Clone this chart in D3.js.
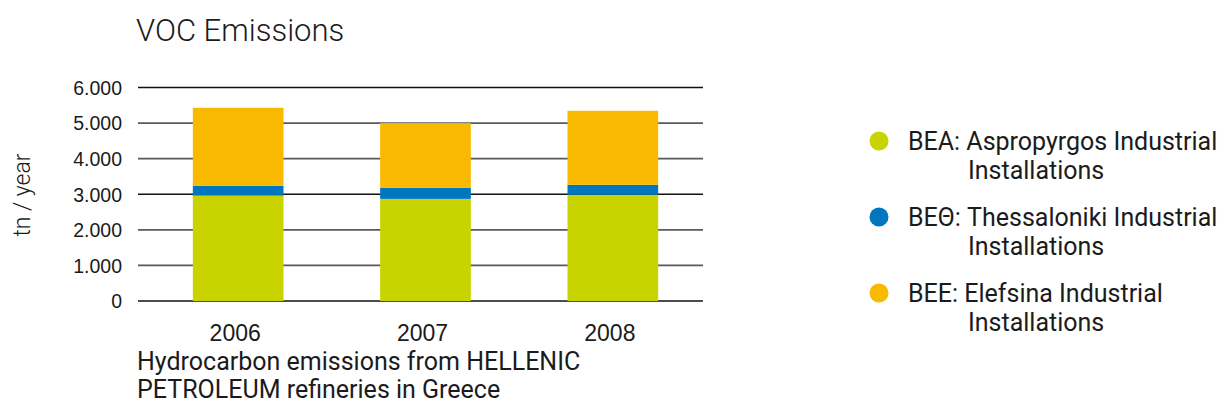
<!DOCTYPE html>
<html>
<head>
<meta charset="utf-8">
<script src="https://cdn.jsdelivr.net/npm/d3@7"></script>
<style>
  html, body { margin: 0; padding: 0; background: #fff; }
  svg { display: block; font-family: Roboto, "DejaVu Sans", sans-serif; }
</style>
</head>
<body>
<svg id="chart" width="1227" height="417"></svg>
<script>
// VOC emissions per refinery, tn / year
const years = ["2006", "2007", "2008"];
const bea = [2960, 2870, 2985];      // Aspropyrgos
const beth = [280, 310, 280];        // Thessaloniki
const bee = [2190, 1820, 2080];      // Elefsina
const yTicks = [0, 1000, 2000, 3000, 4000, 5000, 6000];

const seriesKeys = ["bea", "beth", "bee"];
const seriesColors = ["#C8D300", "#0076BE", "#F9B900"];
const legendLabels = [
  ["BEA: Aspropyrgos Industrial", "Installations"],
  ["BE\u0398: Thessaloniki Industrial", "Installations"],
  ["BEE: Elefsina Industrial", "Installations"]
];

const rows = years.map((y, i) => ({ year: y, bea: bea[i], beth: beth[i], bee: bee[i] }));
const stacked = d3.stack().keys(seriesKeys)(rows);

const svg = d3.select("#chart");
const textColor = "#1b1b1b";

const x = d3.scaleBand().domain(years).range([146, 705]).paddingInner(0.516).paddingOuter(0.25);
const y = d3.scaleLinear().domain([0, 6000]).range([301, 87.5]);

const locale = d3.formatLocale({ decimal: ",", thousands: ".", grouping: [3], currency: ["", "€"] });
const fmt = locale.format(",d");

// gridlines
svg.append("g")
  .selectAll("line")
  .data(yTicks)
  .join("line")
  .attr("x1", 138).attr("x2", 703)
  .attr("y1", d => y(d)).attr("y2", d => y(d))
  .attr("stroke", d => d % 3000 === 0 ? "#111" : "#5a5a5a")
  .attr("stroke-width", d => d % 3000 === 0 ? 1.3 : 1.6);

// y axis labels
const yAxis = d3.axisLeft(y).tickValues(yTicks).tickFormat(fmt).tickSize(0).tickPadding(0);
const gy = svg.append("g").attr("transform", "translate(122,0)").call(yAxis);
gy.select(".domain").remove();
gy.selectAll("text")
  .attr("font-size", 19.5)
  .attr("fill", textColor)
  .attr("dy", "0.35em");

// stacked bars
svg.append("g")
  .selectAll("g")
  .data(stacked)
  .join("g")
  .attr("fill", (d, i) => seriesColors[i])
  .selectAll("rect")
  .data(d => d)
  .join("rect")
  .attr("x", d => x(d.data.year))
  .attr("width", x.bandwidth())
  .attr("y", d => y(d[1]))
  .attr("height", d => y(d[0]) - y(d[1]));

// x axis labels
const xAxis = d3.axisBottom(x).tickSize(0).tickPadding(0);
const gx = svg.append("g").attr("transform", "translate(-3,341)").call(xAxis);
gx.select(".domain").remove();
gx.selectAll("text")
  .attr("font-size", 23)
  .attr("fill", textColor)
  .attr("dy", 0);

// title
svg.append("text")
  .attr("x", 136).attr("y", 41)
  .attr("font-size", 31)
  .attr("font-weight", 300)
  .attr("fill", textColor)
  .text("VOC Emissions");

// y axis title
svg.append("text")
  .attr("transform", "translate(30,195) rotate(-90)")
  .attr("text-anchor", "middle")
  .attr("font-size", 23)
  .attr("font-weight", 300)
  .attr("fill", textColor)
  .text("tn / year");

// caption
const caption = svg.append("text")
  .attr("x", 137)
  .attr("font-size", 25)
  .attr("fill", textColor);
caption.append("tspan").attr("x", 137).attr("y", 370).text("Hydrocarbon emissions from HELLENIC");
caption.append("tspan").attr("x", 137).attr("y", 398).text("PETROLEUM refineries in Greece");

// legend
const legend = svg.append("g")
  .selectAll("g")
  .data(legendLabels)
  .join("g")
  .attr("transform", (d, i) => `translate(0,${i * 76})`);
legend.append("circle")
  .attr("cx", 879).attr("cy", 141).attr("r", 9.5)
  .attr("fill", (d, i) => seriesColors[i]);
legend.append("text")
  .attr("x", 908).attr("y", 150)
  .attr("font-size", 25)
  .attr("fill", textColor)
  .text(d => d[0]);
legend.append("text")
  .attr("x", 968).attr("y", 179)
  .attr("font-size", 25)
  .attr("fill", textColor)
  .text(d => d[1]);
</script>
</body>
</html>
